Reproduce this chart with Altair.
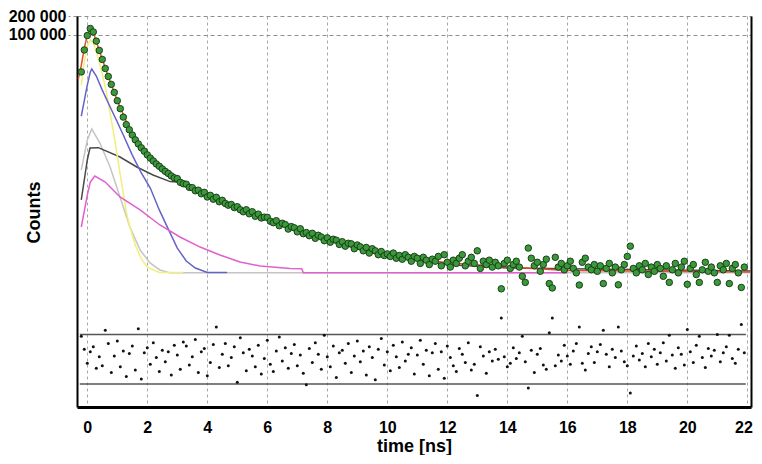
import altair as alt
import pandas as pd

# ---------------- data ----------------
T0 = -0.2          # first channel time [ns]
DT = 0.1           # channel width [ns]

COUNTS = [
    26000, 58000, 98000, 127000, 112000, 80000, 57000, 41000, 29500, 22000,
    16500, 12300, 9100, 6800, 5000, 3800, 3150, 2600, 2180, 1880,
    1630, 1440, 1260, 1120, 1010, 905, 830, 755, 690, 640,
    585, 545,
    530, 462, 440, 432, 385, 381, 340, 347, 305, 321,
    271, 288, 250, 268, 228, 240, 214, 201, 206, 184,
    190, 170, 158, 170, 147, 158, 134, 145, 126, 130,
    129, 112, 106, 114, 95, 104, 99, 84, 92, 88,
    76, 85, 71, 74, 66, 72, 60, 67, 63, 55,
    61, 52, 58, 56, 48, 53, 45, 50, 49, 41,
    47, 44, 38, 43, 35, 41, 38, 33, 37, 32,
    34, 31, 35, 29, 32, 28, 33, 30, 26, 31,
    29, 24, 30, 27, 23, 28, 26, 31, 22, 33,
    25, 21, 27, 24, 29, 33, 22, 26, 30, 24,
    38, 20, 26, 23, 27, 21, 25, 22, 9.5, 24,
    27, 20, 23, 26, 21, 15, 12, 42, 29, 22,
    25, 18, 23, 28, 11.5, 9.8, 30, 21, 24, 19,
    22, 26, 20, 17, 10.9, 25, 29, 21, 19, 23,
    18, 22, 11.5, 20, 24, 17, 21, 11, 19, 23,
    31, 45, 20, 17, 22, 19, 24, 16, 21, 18,
    23, 20, 15, 22, 12, 19, 24, 17, 21, 26,
    11.2, 20, 23, 16, 12, 19, 25, 18, 21, 17,
    12, 22, 19, 24, 11.5, 20, 23, 17, 10, 21,
]

RESID = [
    2.8, 1.2, -0.5, 0.9, 1.5, -1.1, 0.3, -0.8, 3.5, 1.9,
    -1.6, 0.4, 2.2, -0.9, 1.0, -2.1, 0.7, 1.6, -1.3, 3.7,
    -2.4, 0.8, 1.4, -0.6, 2.0, 0.2, -1.5, 1.1, -0.3, 0.9,
    -1.9, 1.7, 0.5, -1.2, 2.1, 1.6, -0.7, 0.3, 2.4, -1.6,
    0.9, 1.3, -2.0, -0.4, 1.8, 3.9, -1.0, 0.6, 1.9, -0.8,
    0.2, 1.5, -2.8, 2.6, 0.8, -1.4, 1.2, 0.4, -0.9, 1.7,
    -1.8, 0.1, 2.3, -0.6, -1.5, 1.0, 2.7, -0.2, 1.4, -1.1,
    0.7, 1.8, -0.8, 0.5, -1.7, -3.1, 1.3, -0.4, 2.0, 0.6,
    -1.2, 2.9, 0.3, -0.9, 1.6, -2.2, 0.8, 1.1, -0.5, 1.9,
    -1.6, 0.4, 2.2, -0.3, 1.0, -1.9, 1.5, 0.2, -2.5, 1.2,
    2.5, -0.7, 0.9, -1.4, 1.7, 0.3, -1.0, 2.1, -0.2, 0.6,
    1.4, -1.8, 0.5, 2.3, -0.6, 1.1, -2.0, 0.8, 1.9, -1.2,
    0.9, -2.3, 1.6, 0.2, -0.8, -1.5, 1.3, 0.6, -0.4, 2.0,
    -1.3, -0.6, -4.4, 1.5, 0.4, -1.7, 0.9, -0.2, 1.2, 0.0,
    5.0, 0.3, -0.9, -0.5, 1.4, 0.1, 0.8, 2.8, -0.3, -3.5,
    1.1, -1.6, 0.6, 1.3, -0.7, -1.2, 3.2, 5.0, -0.8, 0.5,
    -0.2, 1.7, 0.4, -0.6, 1.0, 1.9, 3.9, -0.5, -1.3, 0.7,
    1.5, -0.4, 0.9, 1.8, 3.5, 0.6, -0.9, 1.2, 0.2, 3.9,
    1.0, -0.3, -0.8, -4.1, 0.4, 1.6, -0.1, 0.7, -0.9, 1.9,
    0.3, 1.2, -0.6, 0.8, 2.0, -0.2, 2.9, 0.5, -1.1, 1.4,
    0.6, -0.7, 3.6, 0.9, -0.4, 1.7, 2.8, 0.2, -1.0, 1.3,
    0.4, 1.1, 3.0, -0.3, 0.8, 1.5, 2.9, 0.1, -0.5, 1.2,
    4.2, 0.8,
]
RESID_LIMITS = [3, -3]
RESID_SPAN = [-0.25, 21.95]

# component decay curves (time [ns], counts)
FIT_T = [-0.3, -0.2, -0.1, 0.0, 0.1, 0.2, 0.4, 0.7, 1.0, 1.5, 2.0, 3.0, 4.0, 5.0, 6.0, 7.0, 8.0, 9.0, 10.0, 12.0, 14.0, 16.0, 22.1]
FIT_C = [20000, 33000, 62000, 100000, 125000, 110000, 57000, 22000, 9100, 2600, 1260, 505, 285, 182, 120, 80, 56, 43, 33, 24.5, 21, 18.5, 17.6]

GRAY_T = [-0.2, 0.0, 0.15, 0.42, 0.76, 1.09, 1.42, 1.76, 2.09, 2.42, 2.76, 22.1]
GRAY_C = [726, 2170, 3240, 1940, 809, 271, 90.6, 39.2, 24.4, 18.9, 17.0, 17.0]

BLACK_T = [-0.2, 0.0, 0.09, 0.37, 1.09, 1.65, 2.19, 2.76, 3.09, 4.09, 5.42, 6.76, 8.09, 9.42, 10.76, 12.1, 14.0, 22.1]
BLACK_C = [243, 1045, 1620, 1640, 1165, 809, 604, 475, 465, 265, 150, 84, 54, 36, 27.5, 22.8, 20.3, 18.2]

YELLOW_T = [-0.2, -0.1, 0.0, 0.1, 0.2, 0.3, 0.4, 0.5, 0.6, 0.7, 0.8, 0.9, 1.0, 1.1, 1.2, 1.3, 1.4, 1.6, 1.8, 2.0, 2.4, 3.2]
YELLOW_C = [16100, 37300, 67000, 83400, 74700, 53700, 37300, 24100, 15000, 8400, 4500, 2420, 1210, 604, 313, 157, 97.5, 47, 28.2, 21, 17.2, 17.2]

BLUE_T = [-0.2, 0.0, 0.1, 0.15, 0.3, 0.5, 0.7, 1.0, 1.2, 1.5, 1.8, 2.1, 2.4, 2.7, 3.0, 3.3, 3.6, 4.0, 4.66]
BLUE_C = [5200, 16100, 25900, 28900, 22400, 13400, 8360, 4180, 2600, 1250, 650, 376, 169, 84, 42, 26.2, 20.3, 17.2, 17.2]

PINK_T = [-0.2, 0.0, 0.1, 0.25, 0.6, 0.76, 1.09, 1.76, 2.42, 3.09, 3.76, 4.42, 5.09, 5.76, 6.76, 7.15, 7.2, 16.0]
PINK_C = [90.6, 291, 468, 582, 468, 390, 271, 169, 97.5, 63, 43.6, 32.6, 25.3, 21.8, 20.0, 19.8, 17.0, 17.0]

X_TICKS = [0, 2, 4, 6, 8, 10, 12, 14, 16, 18, 20, 22]
Y_TICKS = [100000, 200000]
Y_LABELS = ["100 000", "200 000"]

X_DOMAIN = [-0.343, 22.123]
Y_DOMAIN = [0.1273, 200000]
R_DOMAIN = [-5.79, 41.6]

# ---------------- frames ----------------
decay = pd.DataFrame({"t": [round(T0 + DT * i, 3) for i in range(len(COUNTS))], "c": COUNTS})
resid = pd.DataFrame({"t": [round(T0 + DT * i, 3) for i in range(len(RESID))], "r": RESID})
limits = pd.DataFrame({"t": [RESID_SPAN[0]] * 2, "t2": [RESID_SPAN[1]] * 2, "r": RESID_LIMITS})


def curve(ts, cs):
    return pd.DataFrame({"t": ts, "c": cs})


label_expr = "datum.value == {0} ? '{1}' : '{2}'".format(Y_TICKS[0], Y_LABELS[0], Y_LABELS[1])

xs = alt.Scale(domain=X_DOMAIN, nice=False, zero=False)
ys = alt.Scale(type="log", domain=Y_DOMAIN, nice=False)
rs = alt.Scale(domain=R_DOMAIN, nice=False, zero=False)

x_axis = alt.Axis(values=X_TICKS, title="time [ns]", grid=True, gridDash=[3, 3], gridColor="#a8a8a8",
                  gridWidth=1, ticks=False, tickSize=0, labelPadding=12, domainColor="#000000",
                  domainWidth=3, titleY=44, titleBaseline="alphabetic", titleFontSize=18,
                  labelFlush=6, labelFlushOffset=5)
y_axis = alt.Axis(values=Y_TICKS, labelExpr=label_expr, title="Counts", grid=True, gridDash=[4, 3],
                  gridColor="#909090", gridWidth=1, tickSize=9, tickColor="#909090", tickDash=[4, 3],
                  labelPadding=2, domainColor="#000000", domainWidth=2, titleX=-42.5, titleY=196,
                  titleAngle=270, titleAlign="center", titleBaseline="middle")

X = alt.X("t:Q", scale=xs, axis=x_axis)
Y = alt.Y("c:Q", scale=ys, axis=y_axis)


def line(df, color, width=1.5):
    return alt.Chart(df).mark_line(color=color, strokeWidth=width, clip=True).encode(x=X, y=Y)


main = alt.layer(
    line(curve(GRAY_T, GRAY_C), "#c4c4c4"),
    line(curve(BLACK_T, BLACK_C), "#4a4a4a"),
    line(curve(YELLOW_T, YELLOW_C), "#f2ef7a"),
    line(curve(BLUE_T, BLUE_C), "#6464c8"),
    line(curve(PINK_T, PINK_C), "#e060d0"),
    line(curve(FIT_T, FIT_C), "#e0502a"),
    alt.Chart(decay).mark_point(filled=True, size=42, color="#3a9a3a", stroke="#1c3f1c",
                                strokeWidth=1, opacity=1, clip=True).encode(x=X, y=Y),
)

r_axis = alt.Axis(orient="right", labels=False, ticks=False, grid=False, title=None,
                  domainColor="#000000", domainWidth=2)

res = alt.layer(
    alt.Chart(limits).mark_rule(color="#555555", strokeWidth=1.5).encode(
        x=X, x2="t2:Q", y=alt.Y("r:Q", scale=rs, axis=r_axis)),
    alt.Chart(resid).mark_point(filled=True, size=9, color="#111111", opacity=1).encode(
        x=X, y=alt.Y("r:Q", scale=rs, axis=r_axis)),
)

chart = alt.layer(main, res).resolve_scale(y="independent").properties(
    width=674, height=391,
    padding={"left": 69, "top": 8, "right": 3, "bottom": 48},
    autosize=alt.AutoSizeParams(type="none"),
    background="#ffffff",
).configure_axis(
    labelFont="Liberation Sans", labelFontWeight="bold", labelFontSize=16, labelColor="#000000",
    titleFont="Liberation Sans", titleFontWeight="bold", titleFontSize=18, titleColor="#000000",
).configure_view(stroke=None)

chart.save("out.html", embed_options={"renderer": "svg", "actions": False})
